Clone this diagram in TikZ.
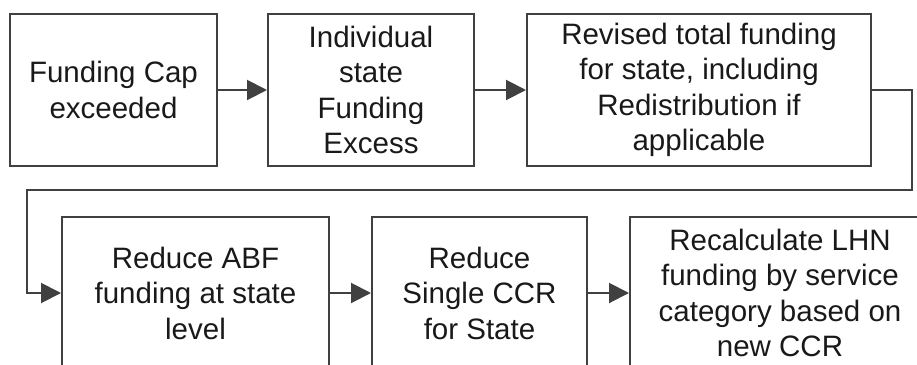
\documentclass[tikz,border=0pt]{standalone}
\usepackage{fontspec}
\setmainfont{Liberation Sans}
\usetikzlibrary{arrows.meta}
\begin{document}
\begin{tikzpicture}[x=1pt,y=-1pt,line cap=butt,line join=miter,>={Triangle[length=20pt,width=20pt]}]
\tikzset{stepbox/.style={draw=black!75,line width=2pt,minimum height=152pt,inner sep=0pt,align=center,
font=\fontsize{29.5}{35.5}\selectfont,text=black!90},
link/.style={draw=black!75,line width=2pt,->}
}
\clip (0,0) rectangle (917,364);
% top row
\node[stepbox,minimum width=207pt] (cap) at (113.5,90) {Funding Cap\\exceeded};
\node[stepbox,minimum width=206pt] (excess) at (371,90) {Individual\\state\\Funding\\Excess};
\node[stepbox,minimum width=344pt] (revised) at (699,90) {Revised total funding\\for state, including\\Redistribution if\\applicable};
% bottom row
\node[stepbox,minimum width=267pt] (abf) at (195.5,293) {Reduce ABF\\funding at state\\level};
\node[stepbox,minimum width=215pt] (ccr) at (479.5,293) {Reduce\\Single CCR\\for State};
\node[stepbox,minimum width=300pt] (lhn) at (780,293) {Recalculate LHN\\funding by service\\category based on\\new CCR};
\coordinate (turnR) at (912,190);
\coordinate (turnL) at (27,190);
\draw[link] (cap) -- (excess);
\draw[link] (excess) -- (revised);
\draw[link] (revised.east) -| (turnR) -- (turnL) |- (abf.west);
\draw[link] (abf) -- (ccr);
\draw[link] (ccr) -- (lhn);
\end{tikzpicture}
\end{document}
